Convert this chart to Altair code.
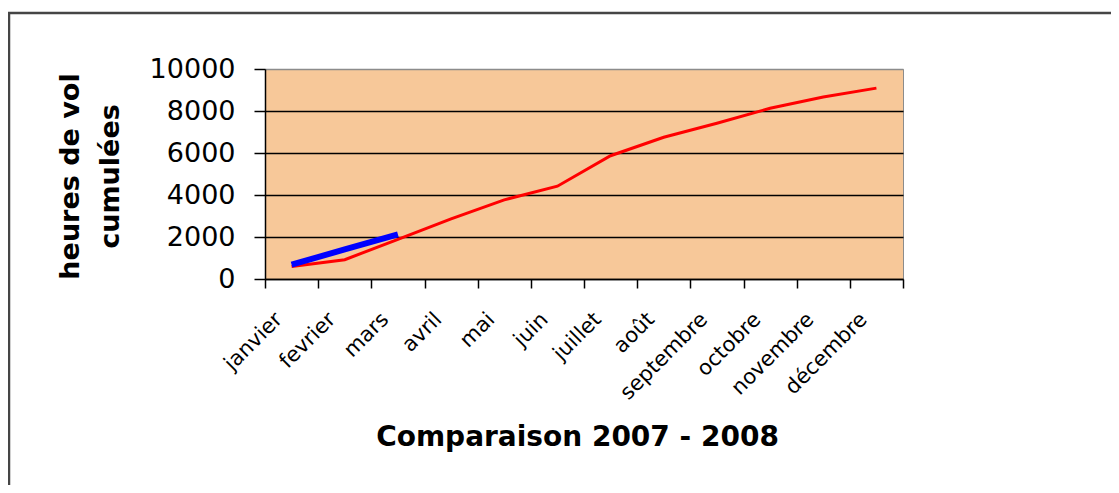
import altair as alt
import pandas as pd

# ---- data ----
mois = ["janvier", "fevrier", "mars", "avril", "mai", "juin", "juillet",
        "août", "septembre", "octobre", "novembre", "décembre"]
heures_2007 = [600, 920, 1890, 2860, 3770, 4420, 5870, 6750, 7420, 8130, 8670, 9090]
heures_2008 = [680, 1410, 2130]
y_ticks = [0, 2000, 4000, 6000, 8000, 10000]

df07 = pd.DataFrame({"mois": mois, "heures": heures_2007})
df08 = pd.DataFrame({"mois": mois[:len(heures_2008)], "heures": heures_2008})
one = pd.DataFrame({"k": [0]})

FONT = "DejaVu Sans"

x_enc = alt.X(
    "mois:N",
    scale=alt.Scale(type="band", domain=mois, paddingInner=0, paddingOuter=0),
    bandPosition=0.5,
    axis=alt.Axis(
        title="Comparaison 2007 - 2008",
        tickBand="extent",
        labelAngle=-45,
        labelAlign="right",
        labelBaseline="middle",
        labelOffset=-13,
        labelPadding=28,
        labelOverlap=False,
        labelLimit=300,
        labelFont=FONT,
        labelFontSize=21,
        labelColor="black",
        tickSize=9,
        tickColor="black",
        tickWidth=1.5,
        domainColor="black",
        domainWidth=1.5,
        grid=False,
        titleFont=FONT,
        titleFontSize=28,
        titleFontWeight="bold",
        titleColor="black",
        titleX=312,
        titleY=166,
        titleAlign="center",
        titleBaseline="alphabetic",
    ),
)

y_enc = alt.Y(
    "heures:Q",
    scale=alt.Scale(domain=[0, 10000], nice=False),
    axis=alt.Axis(
        values=y_ticks,
        format="d",
        title=["heures de vol", "cumulées"],
        tickSize=11,
        tickColor="black",
        tickWidth=1.5,
        domainColor="black",
        domainWidth=1.5,
        labelPadding=19,
        labelFont=FONT,
        labelFontSize=27,
        labelColor="black",
        grid=True,
        gridColor={"condition": {"test": "datum.value >= 10000", "value": "#8c8c8c"},
                   "value": "black"},
        gridWidth=1.5,
        titleFont=FONT,
        titleFontSize=27,
        titleFontWeight="bold",
        titleColor="black",
        titleLineHeight=40,
        titleX=-187,
        titleY=107,
        titleAlign="center",
        titleBaseline="alphabetic",
    ),
)

border_top = alt.Chart(one).mark_rule(color="#454545", strokeWidth=2.5).encode(
    x=alt.value(-257), x2=alt.value(900), y=alt.value(-56)
)
border_left = alt.Chart(one).mark_rule(color="#454545", strokeWidth=2.5).encode(
    x=alt.value(-256), y=alt.value(-56), y2=alt.value(500)
)

line07 = alt.Chart(df07).mark_line(color="#FF0000", strokeWidth=3).encode(
    x=x_enc, y=y_enc
)
line08 = alt.Chart(df08).mark_line(color="#0000FF", strokeWidth=6).encode(
    x=x_enc, y=y_enc
)

chart = alt.layer(border_top, border_left, line07, line08).properties(
    width=638,
    height=210,
    autosize=alt.AutoSizeParams(type="none"),
    padding={"left": 257, "top": 61, "right": 208, "bottom": 206},
    background="white",
).configure_view(
    fill="#F7C899",
    stroke="#8c8c8c",
    strokeWidth=1,
)

chart.save("out.html", embed_options={"renderer": "svg", "actions": False})
